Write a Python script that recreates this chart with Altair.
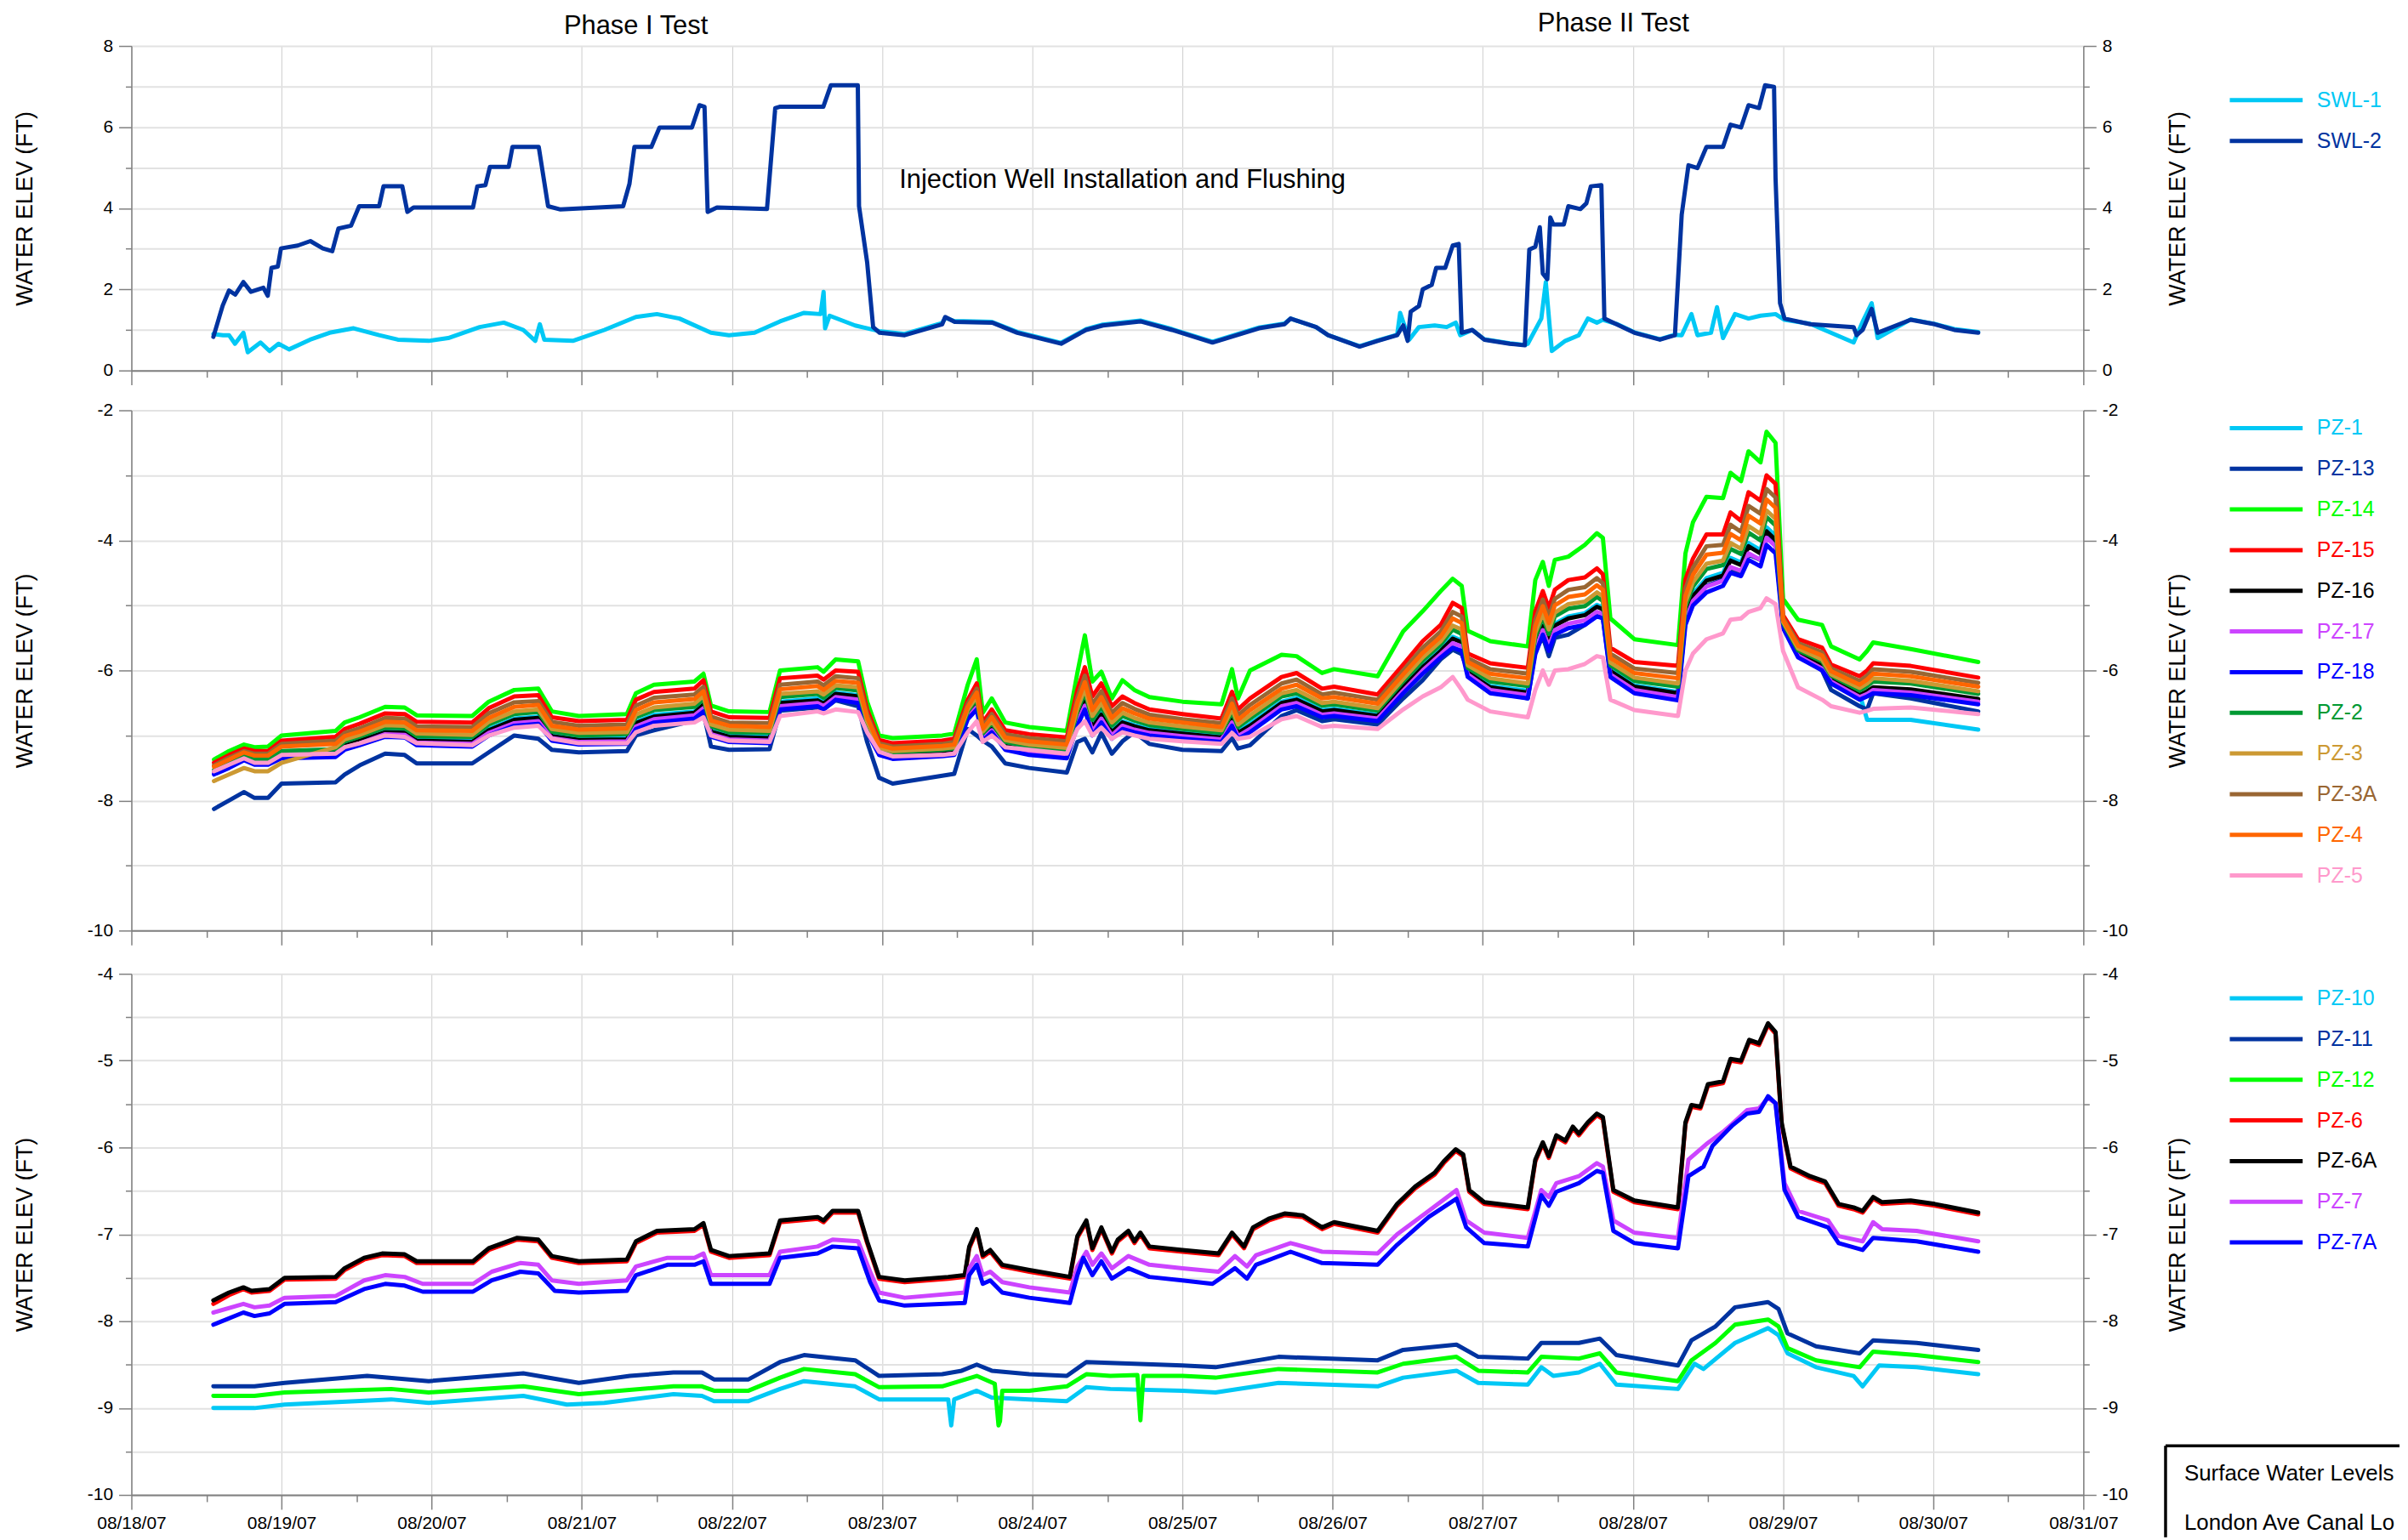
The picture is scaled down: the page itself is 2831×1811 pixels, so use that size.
import altair as alt
import pandas as pd

FONT = "Liberation Sans, Arial, Helvetica, sans-serif"

# ---------------- data (x = days since 08/18/07 00:00) ----------------
SWL1_T = [0.546, 0.61, 0.65, 0.69, 0.746, 0.775, 0.86, 0.92, 0.98, 1.05,
          1.19, 1.32, 1.48, 1.65, 1.775, 1.98, 2.11, 2.32, 2.48, 2.61,
          2.69, 2.72, 2.75, 2.94, 3.15, 3.36, 3.5, 3.65, 3.86, 3.98,
          4.15, 4.32, 4.48, 4.59, 4.61, 4.62, 4.65, 4.82, 4.98, 5.15,
          5.4, 5.42, 5.48, 5.73, 5.9, 6.19, 6.36, 6.47, 6.72, 6.93,
          7.2, 7.51, 7.68, 7.72, 7.89, 7.97, 8.18, 8.3, 8.43, 8.45,
          8.51, 8.575, 8.68, 8.76, 8.82, 8.85, 8.93, 9.01, 9.18, 9.28,
          9.3, 9.39, 9.42, 9.46, 9.55, 9.64, 9.7, 9.76, 9.8, 9.89,
          10.01, 10.18, 10.28, 10.325, 10.39, 10.43, 10.52, 10.56, 10.6, 10.68,
          10.77, 10.85, 10.95, 11.01, 11.18, 11.47, 11.53, 11.59, 11.63, 11.85,
          12.01, 12.14, 12.3]
SWL1_V = [0.9, 0.87, 0.87, 0.66, 0.93, 0.45, 0.69, 0.48, 0.66, 0.52,
          0.76, 0.93, 1.04, 0.87, 0.76, 0.73, 0.8, 1.07, 1.18, 1.0,
          0.73, 1.14, 0.76, 0.73, 1.0, 1.32, 1.39, 1.28, 0.93, 0.87,
          0.93, 1.21, 1.42, 1.39, 1.94, 1.04, 1.35, 1.11, 0.97, 0.9,
          1.17, 1.3, 1.22, 1.2, 0.95, 0.68, 1.02, 1.13, 1.23, 1.02,
          0.71, 1.06, 1.16, 1.28, 1.07, 0.87, 0.6, 0.74, 0.88, 1.42,
          0.76, 1.07, 1.11, 1.07, 1.18, 0.87, 1.0, 0.77, 0.67, 0.63,
          0.66, 1.28, 2.18, 0.48, 0.73, 0.87, 1.28, 1.18, 1.25, 1.15,
          0.94, 0.77, 0.88, 0.87, 1.39, 0.87, 0.93, 1.56, 0.8, 1.39,
          1.28, 1.35, 1.39, 1.25, 1.15, 0.69, 1.2, 1.66, 0.8, 1.26,
          1.15, 1.02, 0.95]

SWL2_T = [0.546, 0.608, 0.65, 0.692, 0.746, 0.796, 0.879, 0.908, 0.933, 0.975,
          0.996, 1.108, 1.192, 1.275, 1.338, 1.379, 1.463, 1.517, 1.65, 1.679,
          1.804, 1.838, 1.879, 2.275, 2.304, 2.358, 2.388, 2.513, 2.538, 2.713,
          2.775, 2.858, 3.275, 3.317, 3.35, 3.463, 3.517, 3.733, 3.783, 3.817,
          3.838, 3.9, 4.233, 4.288, 4.317, 4.608, 4.658, 4.838, 4.846, 4.9,
          4.94, 4.983, 5.15, 5.4, 5.42, 5.483, 5.733, 5.9, 6.192, 6.358,
          6.47, 6.72, 6.93, 7.2, 7.51, 7.68, 7.72, 7.89, 7.97, 8.18,
          8.3, 8.43, 8.47, 8.5, 8.52, 8.575, 8.6, 8.66, 8.69, 8.75,
          8.8, 8.84, 8.86, 8.93, 9.01, 9.18, 9.28, 9.31, 9.35, 9.38,
          9.4, 9.43, 9.45, 9.47, 9.54, 9.57, 9.65, 9.69, 9.72, 9.79,
          9.81, 9.89, 10.01, 10.18, 10.28, 10.325, 10.37, 10.43, 10.49, 10.6,
          10.65, 10.72, 10.77, 10.84, 10.88, 10.94, 10.95, 10.98, 11.01, 11.18,
          11.47, 11.49, 11.53, 11.59, 11.63, 11.85, 12.01, 12.14, 12.3]
SWL2_V = [0.83, 1.6, 1.97, 1.87, 2.18, 1.94, 2.04, 1.84, 2.53, 2.56,
          3.01, 3.08, 3.19, 3.01, 2.94, 3.5, 3.57, 4.05, 4.05, 4.54,
          4.54, 3.91, 4.02, 4.02, 4.54, 4.57, 5.02, 5.02, 5.51, 5.51,
          4.05, 3.97, 4.05, 4.6, 5.51, 5.51, 5.99, 5.99, 6.54, 6.5,
          3.91, 4.02, 3.98, 6.47, 6.5, 6.5, 7.03, 7.03, 4.05, 2.67,
          1.07, 0.93, 0.87, 1.14, 1.32, 1.2, 1.18, 0.93, 0.66, 1.0,
          1.11, 1.21, 1.0, 0.69, 1.04, 1.14, 1.28, 1.07, 0.87, 0.59,
          0.73, 0.87, 1.11, 0.73, 1.45, 1.59, 2.0, 2.11, 2.53, 2.53,
          3.08, 3.12, 0.93, 1.0, 0.76, 0.66, 0.62, 2.98, 3.05, 3.53,
          2.39, 2.25, 3.77, 3.6, 3.6, 4.05, 3.98, 4.12, 4.54, 4.57,
          1.28, 1.14, 0.93, 0.76, 0.87, 3.84, 5.06, 4.99, 5.51, 5.51,
          6.06, 5.99, 6.54, 6.47, 7.03, 6.99, 4.74, 1.66, 1.28, 1.14,
          1.07, 0.87, 1.0, 1.52, 0.93, 1.25, 1.14, 1.0, 0.93]

MID_T = [0.55, 0.65, 0.75, 0.82, 0.91, 1.0, 1.36, 1.42, 1.52, 1.69,
         1.82, 1.9, 2.27, 2.38, 2.55, 2.71, 2.8, 2.98, 3.3, 3.36,
         3.48, 3.75, 3.81, 3.86, 3.98, 4.25, 4.32, 4.57, 4.61, 4.69,
         4.84, 4.9, 4.98, 5.07, 5.4, 5.48, 5.57, 5.63, 5.67, 5.73,
         5.82, 5.98, 6.23, 6.3, 6.35, 6.4, 6.46, 6.53, 6.6, 6.68,
         6.78, 7.0, 7.26, 7.33, 7.37, 7.45, 7.66, 7.76, 7.93, 8.01,
         8.3, 8.47, 8.6, 8.72, 8.8, 8.86, 8.9, 9.05, 9.3, 9.35,
         9.4, 9.44, 9.48, 9.57, 9.68, 9.76, 9.8, 9.85, 10.01, 10.3,
         10.35, 10.4, 10.49, 10.6, 10.65, 10.72, 10.77, 10.85, 10.89, 10.95,
         11.0, 11.1, 11.26, 11.32, 11.51, 11.56, 11.6, 11.85, 12.3]

PZ1_V = [-7.56, -7.45, -7.34, -7.4, -7.4, -7.28, -7.25, -7.14, -7.07, -6.93,
         -6.94, -7.06, -7.08, -6.9, -6.74, -6.71, -6.99, -7.05, -7.04, -6.79,
         -6.68, -6.63, -6.51, -6.92, -7.0, -7.02, -6.48, -6.43, -6.49, -6.34,
         -6.38, -6.86, -7.24, -7.3, -7.26, -7.24, -6.68, -6.5, -7.01, -6.86,
         -7.15, -7.22, -7.27, -6.71, -6.44, -6.85, -6.65, -6.93, -6.78, -6.84,
         -6.9, -6.96, -7.01, -6.72, -6.94, -6.82, -6.48, -6.42, -6.61, -6.59,
         -6.68, -6.24, -5.93, -5.68, -5.48, -5.54, -6.01, -6.24, -6.31, -5.59,
         -5.28, -5.54, -5.28, -5.17, -5.12, -4.99, -5.03, -5.99, -6.23, -6.33,
         -5.13, -4.82, -4.58, -4.5, -4.27, -4.34, -4.04, -4.15, -3.8, -3.93,
         -5.3, -5.73, -5.91, -6.13, -6.36, -6.76, -6.76, -6.76, -6.91]
PZ13_V = [-8.13, -8.0, -7.87, -7.96, -7.96, -7.74, -7.72, -7.6, -7.46, -7.28,
          -7.3, -7.43, -7.43, -7.26, -7.0, -7.05, -7.22, -7.26, -7.24, -7.0,
          -6.92, -6.77, -6.65, -7.17, -7.22, -7.21, -6.62, -6.57, -6.6, -6.46,
          -6.55, -7.1, -7.65, -7.74, -7.62, -7.59, -6.9, -7.0, -7.08, -7.17,
          -7.43, -7.5, -7.57, -7.1, -7.05, -7.26, -6.96, -7.28, -7.09, -6.95,
          -7.13, -7.22, -7.24, -7.04, -7.2, -7.15, -6.7, -6.61, -6.78, -6.75,
          -6.83, -6.43, -6.15, -5.83, -5.68, -5.75, -6.0, -6.3, -6.43, -5.7,
          -5.48, -5.78, -5.5, -5.45, -5.3, -5.13, -5.2, -6.04, -6.3, -6.43,
          -5.2, -4.95, -4.7, -4.6, -4.43, -4.5, -4.22, -4.3, -3.91, -4.09,
          -5.3, -5.75, -6.0, -6.3, -6.55, -6.6, -6.35, -6.43, -6.63]
PZ14_V = [-7.37, -7.24, -7.14, -7.18, -7.17, -7.0, -6.93, -6.8, -6.72, -6.56,
          -6.57, -6.69, -6.7, -6.48, -6.3, -6.28, -6.63, -6.7, -6.67, -6.35,
          -6.22, -6.17, -6.05, -6.54, -6.63, -6.64, -6.0, -5.95, -6.02, -5.83,
          -5.86, -6.48, -7.0, -7.04, -7.0, -6.97, -6.22, -5.83, -6.65, -6.43,
          -6.8, -6.87, -6.93, -6.04, -5.46, -6.17, -6.02, -6.43, -6.15, -6.3,
          -6.41, -6.48, -6.52, -5.98, -6.43, -6.0, -5.76, -5.78, -6.04, -5.98,
          -6.09, -5.4, -5.09, -4.78, -4.59, -4.7, -5.39, -5.55, -5.63, -4.61,
          -4.33, -4.7, -4.3, -4.25, -4.07, -3.89, -3.96, -5.2, -5.52, -5.61,
          -4.2, -3.72, -3.33, -3.35, -2.96, -3.09, -2.63, -2.8, -2.33, -2.5,
          -4.9, -5.22, -5.3, -5.63, -5.83, -5.7, -5.57, -5.67, -5.87]
PZ15_V = [-7.42, -7.3, -7.2, -7.24, -7.24, -7.08, -7.02, -6.9, -6.82, -6.66,
          -6.67, -6.79, -6.8, -6.58, -6.4, -6.38, -6.72, -6.78, -6.76, -6.45,
          -6.33, -6.28, -6.15, -6.63, -6.72, -6.73, -6.12, -6.08, -6.14, -6.0,
          -6.02, -6.6, -7.07, -7.12, -7.08, -7.05, -6.45, -6.2, -6.8, -6.6,
          -6.92, -6.98, -7.03, -6.3, -5.95, -6.4, -6.2, -6.55, -6.4, -6.5,
          -6.6, -6.67, -6.74, -6.33, -6.6, -6.43, -6.1, -6.04, -6.28, -6.25,
          -6.37, -5.91, -5.55, -5.3, -4.96, -5.04, -5.74, -5.89, -5.96, -5.09,
          -4.78, -5.04, -4.76, -4.61, -4.57, -4.43, -4.52, -5.65, -5.87, -5.93,
          -4.6, -4.28, -3.91, -3.91, -3.57, -3.7, -3.26, -3.39, -3.0, -3.13,
          -5.15, -5.52, -5.65, -5.91, -6.09, -6.0, -5.89, -5.93, -6.11]
PZ16_V = [-7.56, -7.46, -7.34, -7.41, -7.41, -7.3, -7.27, -7.16, -7.08, -6.95,
          -6.96, -7.08, -7.1, -6.92, -6.76, -6.73, -7.01, -7.07, -7.06, -6.81,
          -6.71, -6.65, -6.53, -6.94, -7.02, -7.04, -6.5, -6.46, -6.51, -6.36,
          -6.4, -6.88, -7.25, -7.31, -7.27, -7.25, -6.69, -6.52, -7.02, -6.88,
          -7.16, -7.24, -7.29, -6.74, -6.47, -6.88, -6.68, -6.95, -6.8, -6.86,
          -6.92, -6.97, -7.03, -6.75, -6.96, -6.85, -6.5, -6.45, -6.63, -6.61,
          -6.7, -6.26, -5.95, -5.7, -5.51, -5.57, -6.03, -6.26, -6.34, -5.62,
          -5.32, -5.57, -5.31, -5.2, -5.15, -5.02, -5.06, -6.01, -6.25, -6.35,
          -5.16, -4.86, -4.62, -4.54, -4.31, -4.38, -4.09, -4.2, -3.86, -3.99,
          -5.31, -5.74, -5.93, -6.14, -6.38, -6.32, -6.26, -6.29, -6.44]
PZ17_V = [-7.58, -7.48, -7.36, -7.43, -7.43, -7.32, -7.3, -7.19, -7.12, -6.98,
          -6.99, -7.11, -7.13, -6.96, -6.81, -6.78, -7.04, -7.1, -7.09, -6.86,
          -6.75, -6.69, -6.58, -6.98, -7.06, -7.08, -6.55, -6.5, -6.55, -6.41,
          -6.45, -6.92, -7.28, -7.34, -7.3, -7.28, -6.72, -6.56, -7.05, -6.92,
          -7.19, -7.27, -7.32, -6.8, -6.54, -6.94, -6.74, -7.0, -6.85, -6.91,
          -6.96, -7.01, -7.06, -6.8, -7.01, -6.9, -6.55, -6.5, -6.68, -6.66,
          -6.74, -6.31, -6.0, -5.75, -5.58, -5.63, -6.06, -6.3, -6.38, -5.68,
          -5.38, -5.63, -5.38, -5.28, -5.23, -5.1, -5.13, -6.06, -6.3, -6.41,
          -5.23, -4.93, -4.71, -4.62, -4.41, -4.47, -4.2, -4.3, -3.96, -4.09,
          -5.33, -5.77, -5.97, -6.17, -6.41, -6.36, -6.3, -6.34, -6.48]
PZ18_V = [-7.6, -7.5, -7.38, -7.45, -7.45, -7.35, -7.33, -7.22, -7.15, -7.02,
          -7.03, -7.15, -7.17, -7.0, -6.85, -6.82, -7.08, -7.14, -7.13, -6.9,
          -6.8, -6.74, -6.63, -7.02, -7.1, -7.12, -6.6, -6.55, -6.6, -6.45,
          -6.5, -6.95, -7.3, -7.36, -7.32, -7.3, -6.75, -6.6, -7.08, -6.95,
          -7.22, -7.3, -7.35, -6.85, -6.6, -7.0, -6.8, -7.05, -6.9, -6.95,
          -7.0, -7.05, -7.1, -6.85, -7.05, -6.95, -6.6, -6.55, -6.72, -6.7,
          -6.78, -6.35, -6.05, -5.8, -5.65, -5.7, -6.1, -6.35, -6.43, -5.75,
          -5.45, -5.7, -5.45, -5.35, -5.3, -5.17, -5.2, -6.1, -6.35, -6.46,
          -5.3, -5.0, -4.8, -4.7, -4.5, -4.55, -4.3, -4.4, -4.07, -4.2,
          -5.35, -5.8, -6.0, -6.2, -6.45, -6.4, -6.35, -6.38, -6.52]
PZ2_V = [-7.53, -7.42, -7.31, -7.37, -7.37, -7.24, -7.21, -7.09, -7.02, -6.88,
         -6.89, -7.01, -7.02, -6.83, -6.67, -6.64, -6.94, -7.0, -6.98, -6.72,
         -6.61, -6.56, -6.44, -6.86, -6.95, -6.96, -6.41, -6.36, -6.42, -6.27,
         -6.31, -6.81, -7.21, -7.26, -7.22, -7.2, -6.63, -6.44, -6.97, -6.81,
         -7.1, -7.17, -7.22, -6.63, -6.34, -6.76, -6.56, -6.85, -6.7, -6.77,
         -6.84, -6.9, -6.96, -6.64, -6.87, -6.74, -6.4, -6.35, -6.54, -6.52,
         -6.62, -6.17, -5.85, -5.6, -5.37, -5.44, -5.96, -6.17, -6.24, -5.49,
         -5.18, -5.44, -5.17, -5.05, -5.01, -4.87, -4.93, -5.92, -6.16, -6.25,
         -5.02, -4.71, -4.44, -4.38, -4.13, -4.21, -3.88, -4.0, -3.64, -3.77,
         -5.27, -5.69, -5.86, -6.08, -6.31, -6.24, -6.17, -6.2, -6.36]
PZ3_V = [-7.7, -7.6, -7.5, -7.55, -7.55, -7.42, -7.18, -7.06, -6.99, -6.84,
         -6.85, -6.97, -6.99, -6.79, -6.63, -6.6, -6.9, -6.96, -6.95, -6.68,
         -6.57, -6.51, -6.39, -6.83, -6.91, -6.93, -6.36, -6.32, -6.37, -6.23,
         -6.26, -6.78, -7.19, -7.24, -7.2, -7.18, -6.6, -6.4, -6.94, -6.78,
         -7.07, -7.14, -7.19, -6.58, -6.28, -6.7, -6.5, -6.8, -6.65, -6.73,
         -6.8, -6.86, -6.92, -6.59, -6.83, -6.69, -6.35, -6.3, -6.5, -6.48,
         -6.58, -6.13, -5.8, -5.55, -5.31, -5.37, -5.92, -6.12, -6.2, -5.42,
         -5.12, -5.37, -5.11, -4.98, -4.94, -4.8, -4.86, -5.88, -6.11, -6.2,
         -4.95, -4.64, -4.36, -4.31, -4.04, -4.13, -3.78, -3.9, -3.54, -3.67,
         -5.25, -5.66, -5.83, -6.06, -6.27, -6.2, -6.12, -6.16, -6.32]
PZ3A_V = [-7.46, -7.34, -7.24, -7.28, -7.28, -7.13, -7.08, -6.96, -6.89, -6.73,
          -6.74, -6.86, -6.87, -6.66, -6.49, -6.47, -6.79, -6.85, -6.83, -6.54,
          -6.42, -6.37, -6.25, -6.71, -6.8, -6.81, -6.22, -6.17, -6.23, -6.09,
          -6.12, -6.67, -7.12, -7.17, -7.13, -7.1, -6.51, -6.28, -6.86, -6.67,
          -6.98, -7.04, -7.09, -6.41, -6.08, -6.52, -6.32, -6.65, -6.5, -6.59,
          -6.68, -6.75, -6.81, -6.43, -6.69, -6.53, -6.2, -6.14, -6.37, -6.34,
          -6.45, -6.0, -5.65, -5.4, -5.1, -5.17, -5.81, -5.98, -6.05, -5.22,
          -4.91, -5.17, -4.9, -4.76, -4.72, -4.58, -4.66, -5.74, -5.97, -6.04,
          -4.74, -4.42, -4.09, -4.07, -3.76, -3.87, -3.47, -3.59, -3.21, -3.34,
          -5.19, -5.58, -5.72, -5.97, -6.16, -6.08, -5.98, -6.02, -6.19]
PZ4_V = [-7.48, -7.37, -7.26, -7.31, -7.31, -7.17, -7.13, -7.01, -6.94, -6.79,
         -6.8, -6.92, -6.93, -6.73, -6.56, -6.53, -6.85, -6.91, -6.89, -6.61,
         -6.49, -6.44, -6.32, -6.77, -6.85, -6.87, -6.29, -6.24, -6.3, -6.16,
         -6.19, -6.72, -7.15, -7.2, -7.16, -7.14, -6.56, -6.34, -6.9, -6.72,
         -7.03, -7.09, -7.14, -6.49, -6.18, -6.61, -6.41, -6.73, -6.58, -6.66,
         -6.74, -6.8, -6.87, -6.51, -6.76, -6.61, -6.28, -6.22, -6.43, -6.41,
         -6.51, -6.06, -5.73, -5.48, -5.2, -5.27, -5.87, -6.05, -6.12, -5.32,
         -5.01, -5.27, -5.0, -4.87, -4.83, -4.69, -4.76, -5.81, -6.04, -6.12,
         -4.85, -4.53, -4.22, -4.19, -3.9, -4.0, -3.62, -3.74, -3.37, -3.5,
         -5.22, -5.62, -5.77, -6.01, -6.22, -6.14, -6.05, -6.09, -6.25]
PZ5_V = [-7.55, -7.45, -7.35, -7.42, -7.42, -7.3, -7.28, -7.18, -7.12, -7.0,
         -7.02, -7.12, -7.15, -7.0, -6.88, -6.85, -7.05, -7.12, -7.12, -6.95,
         -6.85, -6.8, -6.72, -7.0, -7.08, -7.1, -6.7, -6.63, -6.66, -6.6,
         -6.64, -6.95, -7.25, -7.32, -7.3, -7.28, -6.95, -6.78, -7.1, -7.0,
         -7.18, -7.22, -7.28, -6.9, -6.78, -7.0, -6.88, -7.05, -6.95, -7.0,
         -7.05, -7.09, -7.13, -6.96, -7.05, -7.02, -6.75, -6.7, -6.87, -6.85,
         -6.9, -6.6, -6.4, -6.26, -6.1, -6.3, -6.45, -6.63, -6.72, -6.3,
         -6.0, -6.22, -6.0, -5.98, -5.9, -5.78, -5.8, -6.45, -6.61, -6.7,
         -6.0, -5.74, -5.52, -5.43, -5.22, -5.2, -5.1, -5.04, -4.89, -4.98,
         -5.7, -6.26, -6.45, -6.55, -6.65, -6.62, -6.59, -6.57, -6.67]

PZ6_T = [0.546, 0.65, 0.746, 0.8, 0.92, 1.02, 1.36, 1.42, 1.55, 1.67,
         1.82, 1.9, 2.275, 2.38, 2.57, 2.71, 2.8, 2.98, 3.3, 3.36,
         3.5, 3.75, 3.81, 3.86, 3.98, 4.25, 4.32, 4.57, 4.61, 4.67,
         4.84, 4.9, 4.98, 5.15, 5.44, 5.55, 5.58, 5.63, 5.67, 5.72,
         5.8, 5.98, 6.25, 6.3, 6.36, 6.4, 6.46, 6.53, 6.57, 6.64,
         6.68, 6.72, 6.78, 7.0, 7.24, 7.33, 7.41, 7.47, 7.575, 7.68,
         7.8, 7.93, 8.01, 8.3, 8.43, 8.55, 8.68, 8.74, 8.82, 8.87,
         8.91, 9.01, 9.3, 9.35, 9.4, 9.44, 9.49, 9.55, 9.6, 9.64,
         9.7, 9.76, 9.8, 9.87, 10.01, 10.3, 10.35, 10.39, 10.45, 10.5,
         10.6, 10.65, 10.72, 10.775, 10.84, 10.9, 10.95, 10.99, 11.05, 11.18,
         11.28, 11.37, 11.47, 11.53, 11.6, 11.66, 11.85, 12.01, 12.3]
PZ6A_V = [-7.76, -7.67, -7.61, -7.65, -7.63, -7.5, -7.49, -7.39, -7.27, -7.22,
          -7.23, -7.31, -7.31, -7.16, -7.04, -7.06, -7.25, -7.31, -7.29, -7.08,
          -6.96, -6.94, -6.87, -7.18, -7.25, -7.22, -6.84, -6.8, -6.84, -6.73,
          -6.73, -7.08, -7.49, -7.53, -7.49, -7.47, -7.14, -6.94, -7.24, -7.18,
          -7.35, -7.41, -7.49, -7.02, -6.84, -7.16, -6.92, -7.2, -7.06, -6.96,
          -7.08, -6.98, -7.14, -7.18, -7.22, -6.98, -7.14, -6.92, -6.82, -6.76,
          -6.78, -6.92, -6.86, -6.96, -6.65, -6.45, -6.29, -6.16, -6.02, -6.08,
          -6.49, -6.63, -6.69, -6.14, -5.94, -6.1, -5.86, -5.92, -5.76, -5.84,
          -5.71, -5.61, -5.65, -6.49, -6.61, -6.69, -5.71, -5.51, -5.53, -5.27,
          -5.24, -4.98, -5.0, -4.76, -4.8, -4.57, -4.67, -5.71, -6.22, -6.33,
          -6.39, -6.65, -6.69, -6.73, -6.57, -6.63, -6.61, -6.65, -6.75]
PZ6_V = [-7.8, -7.7, -7.63, -7.67, -7.65, -7.52, -7.51, -7.41, -7.29, -7.24,
         -7.25, -7.33, -7.33, -7.18, -7.06, -7.08, -7.27, -7.33, -7.31, -7.1,
         -6.98, -6.96, -6.89, -7.2, -7.27, -7.24, -6.86, -6.82, -6.86, -6.75,
         -6.75, -7.1, -7.51, -7.55, -7.51, -7.49, -7.16, -6.96, -7.26, -7.2,
         -7.37, -7.43, -7.51, -7.04, -6.86, -7.18, -6.94, -7.22, -7.08, -6.98,
         -7.1, -7.0, -7.16, -7.2, -7.24, -7.0, -7.16, -6.94, -6.84, -6.78,
         -6.8, -6.94, -6.88, -6.98, -6.67, -6.47, -6.31, -6.18, -6.04, -6.1,
         -6.51, -6.65, -6.71, -6.16, -5.96, -6.12, -5.88, -5.94, -5.78, -5.86,
         -5.73, -5.63, -5.67, -6.51, -6.63, -6.71, -5.73, -5.53, -5.55, -5.29,
         -5.26, -5.0, -5.02, -4.78, -4.82, -4.59, -4.69, -5.73, -6.24, -6.35,
         -6.41, -6.67, -6.71, -6.75, -6.59, -6.65, -6.63, -6.67, -6.77]

PZ7_T = [0.546, 0.746, 0.82, 0.92, 1.02, 1.36, 1.55, 1.69, 1.82, 1.94,
         2.275, 2.4, 2.59, 2.71, 2.8, 2.98, 3.3, 3.36, 3.57, 3.75,
         3.81, 3.86, 4.25, 4.32, 4.57, 4.67, 4.84, 4.92, 4.98, 5.15,
         5.55, 5.58, 5.63, 5.67, 5.72, 5.8, 5.98, 6.25, 6.3, 6.36,
         6.4, 6.46, 6.53, 6.64, 6.78, 7.0, 7.24, 7.35, 7.43, 7.49,
         7.72, 7.93, 8.3, 8.43, 8.64, 8.825, 8.89, 9.01, 9.3, 9.39,
         9.44, 9.49, 9.64, 9.76, 9.8, 9.87, 10.01, 10.3, 10.37, 10.49,
         10.6, 10.66, 10.76, 10.84, 10.9, 10.95, 11.01, 11.1, 11.3, 11.37,
         11.53, 11.6, 11.66, 11.89, 12.3]
PZ7_V = [-7.9, -7.8, -7.84, -7.82, -7.73, -7.71, -7.53, -7.47, -7.49, -7.57,
         -7.57, -7.43, -7.33, -7.35, -7.53, -7.57, -7.53, -7.37, -7.27, -7.27,
         -7.22, -7.47, -7.47, -7.2, -7.14, -7.06, -7.08, -7.43, -7.67, -7.73,
         -7.67, -7.39, -7.25, -7.47, -7.43, -7.55, -7.61, -7.67, -7.37, -7.2,
         -7.35, -7.22, -7.39, -7.25, -7.35, -7.39, -7.43, -7.25, -7.37, -7.24,
         -7.1, -7.2, -7.22, -7.0, -6.73, -6.49, -6.84, -6.98, -7.04, -6.49,
         -6.57, -6.41, -6.33, -6.18, -6.22, -6.84, -6.98, -7.04, -6.14, -5.96,
         -5.82, -5.73, -5.57, -5.55, -5.43, -5.49, -6.41, -6.73, -6.84, -7.02,
         -7.08, -6.86, -6.94, -6.96, -7.08]

PZ7A_T = [0.546, 0.746, 0.82, 0.92, 1.02, 1.36, 1.55, 1.69, 1.82, 1.94,
          2.275, 2.4, 2.59, 2.71, 2.82, 2.98, 3.3, 3.36, 3.57, 3.75,
          3.81, 3.86, 4.25, 4.32, 4.57, 4.67, 4.84, 4.92, 4.98, 5.15,
          5.55, 5.58, 5.63, 5.67, 5.72, 5.8, 5.98, 6.25, 6.3, 6.34,
          6.4, 6.46, 6.53, 6.64, 6.78, 7.0, 7.2, 7.35, 7.43, 7.49,
          7.72, 7.93, 8.3, 8.43, 8.64, 8.825, 8.89, 9.01, 9.3, 9.39,
          9.44, 9.49, 9.64, 9.76, 9.8, 9.87, 10.01, 10.3, 10.37, 10.47,
          10.53, 10.66, 10.76, 10.84, 10.9, 10.95, 11.01, 11.1, 11.3, 11.37,
          11.53, 11.6, 11.89, 12.3]
PZ7A_V = [-8.04, -7.9, -7.94, -7.91, -7.8, -7.78, -7.63, -7.57, -7.59, -7.66,
          -7.66, -7.53, -7.43, -7.45, -7.65, -7.67, -7.65, -7.47, -7.35, -7.35,
          -7.31, -7.57, -7.57, -7.27, -7.22, -7.14, -7.16, -7.55, -7.76, -7.82,
          -7.79, -7.47, -7.35, -7.57, -7.53, -7.67, -7.73, -7.79, -7.47, -7.27,
          -7.47, -7.31, -7.51, -7.39, -7.49, -7.53, -7.57, -7.39, -7.51, -7.35,
          -7.2, -7.33, -7.35, -7.12, -6.8, -6.59, -6.92, -7.1, -7.14, -6.55,
          -6.67, -6.51, -6.41, -6.27, -6.29, -6.96, -7.1, -7.16, -6.33, -6.22,
          -5.98, -5.75, -5.61, -5.59, -5.41, -5.49, -6.49, -6.8, -6.92, -7.1,
          -7.18, -7.04, -7.08, -7.2]

PZ11_T = [0.546, 0.82, 1.02, 1.57, 1.98, 2.61, 2.98, 3.32, 3.61, 3.8,
          3.88, 4.11, 4.32, 4.48, 4.82, 4.98, 5.4, 5.53, 5.63, 5.73,
          5.98, 6.23, 6.36, 6.52, 7.0, 7.22, 7.64, 8.3, 8.47, 8.825,
          8.97, 9.3, 9.39, 9.64, 9.78, 9.89, 10.3, 10.39, 10.55, 10.68,
          10.9, 10.97, 11.03, 11.22, 11.51, 11.6, 11.89, 12.3]
PZ11_V = [-8.75, -8.75, -8.71, -8.63, -8.69, -8.6, -8.71, -8.63, -8.59, -8.59,
          -8.67, -8.67, -8.47, -8.39, -8.45, -8.63, -8.61, -8.57, -8.5, -8.57,
          -8.61, -8.63, -8.47, -8.48, -8.51, -8.53, -8.41, -8.45, -8.33, -8.27,
          -8.41, -8.43, -8.25, -8.25, -8.2, -8.39, -8.51, -8.22, -8.06, -7.84,
          -7.78, -7.86, -8.14, -8.29, -8.37, -8.22, -8.25, -8.33]

PZ12_T = [0.546, 0.82, 1.02, 1.73, 1.98, 2.61, 2.98, 3.61, 3.8, 3.88,
          4.11, 4.32, 4.48, 4.82, 4.98, 5.4, 5.63, 5.75, 5.775, 5.785,
          5.8, 5.98, 6.23, 6.36, 6.52, 6.7, 6.72, 6.74, 7.0, 7.22,
          7.64, 8.3, 8.47, 8.825, 8.97, 9.3, 9.39, 9.64, 9.78, 9.89,
          10.3, 10.39, 10.55, 10.68, 10.9, 10.97, 11.03, 11.22, 11.51, 11.6,
          11.89, 12.3]
PZ12_V = [-8.86, -8.86, -8.82, -8.78, -8.82, -8.75, -8.84, -8.75, -8.75, -8.8,
          -8.8, -8.65, -8.55, -8.61, -8.76, -8.75, -8.63, -8.72, -9.2, -9.15,
          -8.8, -8.8, -8.75, -8.61, -8.63, -8.62, -9.14, -8.63, -8.63, -8.65,
          -8.55, -8.59, -8.49, -8.41, -8.57, -8.59, -8.41, -8.43, -8.37, -8.59,
          -8.69, -8.45, -8.25, -8.04, -7.98, -8.06, -8.31, -8.45, -8.53, -8.35,
          -8.39, -8.47]

PZ10_T = [0.546, 0.82, 1.02, 1.73, 1.98, 2.61, 2.9, 3.15, 3.61, 3.8,
          3.88, 4.11, 4.32, 4.48, 4.82, 4.98, 5.4, 5.44, 5.46, 5.48,
          5.63, 5.73, 5.98, 6.23, 6.36, 6.52, 7.0, 7.22, 7.64, 8.3,
          8.47, 8.825, 8.97, 9.3, 9.39, 9.47, 9.64, 9.78, 9.89, 10.3,
          10.41, 10.47, 10.68, 10.9, 10.97, 11.03, 11.22, 11.47, 11.53, 11.64,
          11.89, 12.3]
PZ10_V = [-9.0, -9.0, -8.96, -8.9, -8.94, -8.86, -8.96, -8.94, -8.84, -8.86,
          -8.92, -8.92, -8.78, -8.69, -8.75, -8.9, -8.9, -8.9, -9.2, -8.9,
          -8.8, -8.88, -8.9, -8.92, -8.76, -8.78, -8.8, -8.82, -8.71, -8.75,
          -8.65, -8.57, -8.71, -8.73, -8.53, -8.63, -8.59, -8.49, -8.73, -8.78,
          -8.49, -8.55, -8.25, -8.08, -8.16, -8.37, -8.53, -8.63, -8.75, -8.51,
          -8.53, -8.61]

TOP_NAMES = ["SWL-1", "SWL-2"]
TOP_COLORS = ["#00c8f5", "#0033a0"]
MID_NAMES = ["PZ-1", "PZ-13", "PZ-14", "PZ-15", "PZ-16", "PZ-17", "PZ-18",
             "PZ-2", "PZ-3", "PZ-3A", "PZ-4", "PZ-5"]
MID_COLORS = ["#00c8f5", "#0033a0", "#00ff00", "#ff0000", "#000000", "#cc44ff",
              "#0000ff", "#009933", "#cc9933", "#996633", "#ff6600", "#ff99cc"]
BOT_NAMES = ["PZ-10", "PZ-11", "PZ-12", "PZ-6", "PZ-6A", "PZ-7", "PZ-7A"]
BOT_COLORS = ["#00c8f5", "#0033a0", "#00ff00", "#ff0000", "#000000", "#cc44ff", "#0000ff"]

ANNOT_TEXT = ["Phase I Test", "Phase II Test", "Injection Well Installation and Flushing"]
ANNOT_DAY = [3.36, 9.87, 6.6]
BOX_TEXT = ["Surface Water Levels", "London Ave Canal Lo"]

# ---------------- layout constants ----------------
W = 2303
H_TOP, H_MID, H_BOT = 383, 614, 615
LEG_X = 2473


def long_frame(entries):
    rows = []
    for name, ts, vs in entries:
        for t, v in zip(ts, vs):
            rows.append({"series": name, "t": t, "v": v})
    return pd.DataFrame(rows)


top_df = long_frame([("SWL-1", SWL1_T, SWL1_V), ("SWL-2", SWL2_T, SWL2_V)])
mid_df = long_frame([(n, MID_T, v) for n, v in zip(
    MID_NAMES, [PZ1_V, PZ13_V, PZ14_V, PZ15_V, PZ16_V, PZ17_V, PZ18_V,
                PZ2_V, PZ3_V, PZ3A_V, PZ4_V, PZ5_V])])
bot_df = long_frame([("PZ-10", PZ10_T, PZ10_V), ("PZ-11", PZ11_T, PZ11_V),
                     ("PZ-12", PZ12_T, PZ12_V), ("PZ-6", PZ6_T, PZ6_V),
                     ("PZ-6A", PZ6_T, PZ6A_V), ("PZ-7", PZ7_T, PZ7_V),
                     ("PZ-7A", PZ7A_T, PZ7A_V)])

HALF_DAYS = [i / 2 for i in range(27)]
XS = alt.Scale(domain=[0, 13], nice=False, zero=False)


def x_axis(show_labels):
    kw = dict(
        values=HALF_DAYS, title=None, grid=True, gridColor="#cdcdcd", gridWidth=1,
        gridOpacity={"condition": {"test": "datum.value % 1 != 0", "value": 0}, "value": 1},
        tickSize={"condition": {"test": "datum.value % 1 != 0", "value": 8}, "value": 17},
        tickColor="#808080", tickWidth=1.5, domainColor="#808080", domainWidth=2,
        labelFlush=False, labelOverlap=False,
    )
    if show_labels:
        kw.update(
            labelExpr="datum.value % 1 == 0 ? timeFormat(datetime(2007, 7, 18 + datum.value), '%m/%d/%y') : ''",
            labelFont=FONT, labelFontSize=21, labelColor="black", labelPadding=6,
        )
    else:
        kw.update(labels=False)
    return alt.Axis(**kw)


def y_axis(orient, values, major_test, height):
    return alt.Axis(
        orient=orient, values=values, title="WATER ELEV (FT)",
        titleFont=FONT, titleFontSize=27, titleFontWeight="normal", titleColor="black",
        titleAngle=270, titleBaseline="middle", titleAlign="center",
        titleX=-125 if orient == "left" else 112, titleY=height / 2,
        labelExpr=f"({major_test}) ? '' + datum.value : ''",
        labelFont=FONT, labelFontSize=21, labelColor="black", labelPadding=7,
        labelFlush=False, labelOverlap=False,
        tickSize={"condition": {"test": f"!({major_test})", "value": 7}, "value": 15},
        tickColor="#808080", tickWidth=1.5, domainColor="#808080", domainWidth=1.5,
        grid=(orient == "left"), gridColor="#e2e2e2", gridWidth=2,
    )


def legend(names, colors, ly):
    expr = ("[" + ",".join(f"'{c}'" for c in colors) + "][indexof(["
            + ",".join(f"'{n}'" for n in names) + "], datum.label)]")
    return alt.Legend(
        orient="none", legendX=LEG_X, legendY=ly, title=None, padding=0,
        symbolType="M-1,0H7", symbolSize=462, symbolStrokeWidth=5,
        labelFont=FONT, labelFontSize=25, labelOffset=78.5, rowPadding=21,
        labelColor=alt.ExprRef(expr),
    )


def panel(df, names, colors, domain, values, major_test, height, ly, show_labels, extras):
    ys = alt.Scale(domain=domain, nice=False, zero=False)
    xa = x_axis(show_labels)
    base = alt.Chart(df)
    lines = base.mark_line(strokeWidth=5, strokeJoin="round", strokeCap="round").encode(
        x=alt.X("t:Q", scale=XS, axis=xa),
        y=alt.Y("v:Q", scale=ys, axis=y_axis("left", values, major_test, height)),
        color=alt.Color("series:N", scale=alt.Scale(domain=names, range=colors),
                        legend=legend(names, colors, ly)),
    )
    right = base.mark_point(opacity=0, size=1).encode(
        x=alt.X("t:Q", scale=XS, axis=xa),
        y=alt.Y("v:Q", scale=ys, axis=y_axis("right", values, major_test, height)),
    )
    layers = [lines, right] + [e(xa) for e in extras]
    return (alt.layer(*layers)
            .resolve_scale(y="independent")
            .properties(width=W, height=height))


def annotations(xa):
    ann_df = pd.DataFrame({"label": ANNOT_TEXT, "t": ANNOT_DAY, "py": [-14, -17, 168]})
    return alt.Chart(ann_df).mark_text(font=FONT, fontSize=31, baseline="alphabetic",
                                       align="center", color="black").encode(
        x=alt.X("t:Q", scale=XS, axis=xa),
        y=alt.Y("py:Q", scale=None, axis=None),
        text="label:N",
    )


def box_left(xa):
    return alt.Chart(pd.DataFrame({"k": [0]})).mark_rule(color="black", strokeWidth=3.5).encode(
        x=alt.value(2400), y=alt.value(557), y2=alt.value(665))


def box_top(xa):
    return alt.Chart(pd.DataFrame({"k": [0]})).mark_rule(color="black", strokeWidth=3.5).encode(
        x=alt.value(2400), x2=alt.value(2676), y=alt.value(557))


def box_text(xa):
    return alt.Chart(pd.DataFrame({"txt": BOX_TEXT, "py": [590, 648]})).mark_text(
        font=FONT, fontSize=26, align="left", baseline="middle", color="black").encode(
        x=alt.value(2422), y=alt.Y("py:Q", scale=None, axis=None), text="txt:N")


top = panel(top_df, TOP_NAMES, TOP_COLORS, [0, 8], list(range(0, 9)),
            "datum.value % 2 == 0", H_TOP, 50.5, False, [annotations])
mid = panel(mid_df, MID_NAMES, MID_COLORS, [-10, -2], list(range(-10, -1)),
            "datum.value % 2 == 0", H_MID, 7.5, False, [])
bot = panel(bot_df, BOT_NAMES, BOT_COLORS, [-10, -4], [-10 + i / 2 for i in range(13)],
            "datum.value % 1 == 0", H_BOT, 15.5, True, [box_left, box_top, box_text])

upper = (alt.vconcat(top, mid, spacing=18)
         .resolve_scale(color="independent")
         .resolve_legend(color="independent"))

chart = (alt.vconcat(upper, bot, spacing=22)
         .resolve_scale(color="independent")
         .resolve_legend(color="independent")
         .configure(font=FONT, padding={"left": 8, "top": 1, "right": 0, "bottom": 0},
                    background="white")
         .configure_view(stroke=None))

chart.save("out.html", embed_options={"renderer": "svg", "actions": False})
